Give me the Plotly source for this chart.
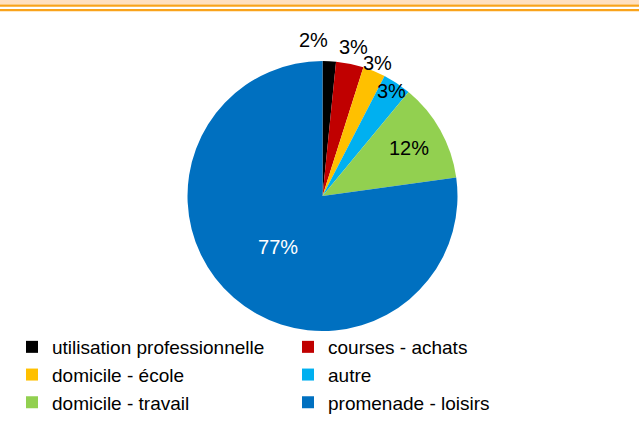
import math
import plotly.graph_objects as go

categories = ["utilisation professionnelle", "courses - achats", "domicile - école",
              "autre", "domicile - travail", "promenade - loisirs"]
shares = [1.6, 3.3, 2.7, 3.4, 11.8, 77.2]

# styles
colors = ["#000000", "#C00000", "#FFC000", "#00B0F0", "#92D050", "#0070C0"]
text_positions = ["none", "none", "none", "none", "inside", "inside"]
text_colors = ["#000000", "#000000", "#000000", "#000000", "#000000", "#FFFFFF"]
# small-slice labels drawn as annotations: radial factor and horizontal anchor
label_radial = [1.16, 1.13, 1.07, 0.93, None, None]
label_anchor = ["right", "center", "center", "center", None, None]

FONT = "Liberation Sans, Arial, sans-serif"
W, H = 639, 431
cx, cy, r = 322.5, 196, 135

fig = go.Figure(go.Pie(
    labels=categories,
    values=shares,
    sort=False,
    direction="clockwise",
    rotation=0,
    marker=dict(colors=colors, line=dict(width=0)),
    texttemplate="%{percent:.0%}",
    textposition=text_positions,
    textfont=dict(family=FONT, size=20, color=text_colors),
    insidetextorientation="horizontal",
    automargin=False,
    hoverinfo="label+percent",
    domain=dict(x=[(cx - r) / W, (cx + r) / W], y=[(H - cy - r) / H, (H - cy + r) / H]),
))

total = sum(shares)
annotations = []
cum = 0.0
for s, rf, anc in zip(shares, label_radial, label_anchor):
    mid = (cum + s / 2) / total * 2 * math.pi
    cum += s
    if rf is None:
        continue
    px = cx + r * rf * math.sin(mid)
    py = cy - r * rf * math.cos(mid)
    annotations.append(dict(
        x=px / W, y=1 - py / H, xref="paper", yref="paper",
        text=f"{round(s / total * 100)}%", showarrow=False,
        xanchor=anc, yanchor="middle",
        font=dict(family=FONT, size=20, color="#000000"),
    ))

fig.update_layout(
    width=W, height=H,
    margin=dict(l=0, r=0, t=0, b=0),
    paper_bgcolor="white",
    plot_bgcolor="white",
    font=dict(family=FONT, color="#000000"),
    showlegend=True,
    legend=dict(
        orientation="h",
        x=12 / W, xanchor="left",
        y=(H - 328) / H, yanchor="top",
        entrywidth=231,
        font=dict(size=19, color="#000000"),
        bgcolor="rgba(0,0,0,0)",
        traceorder="normal",
    ),
    annotations=annotations,
    shapes=[
        dict(type="rect", xref="paper", yref="paper", x0=0, x1=1,
             y0=1 - 4.5 / H, y1=1, fillcolor="#FFE0C0", line=dict(width=0), layer="below"),
        dict(type="rect", xref="paper", yref="paper", x0=0, x1=1,
             y0=1 - 6.8 / H, y1=1 - 4.5 / H, fillcolor="#F9A31B", line=dict(width=0)),
        dict(type="rect", xref="paper", yref="paper", x0=0, x1=1,
             y0=1 - 11.3 / H, y1=1 - 9 / H, fillcolor="#F9A31B", line=dict(width=0)),
    ],
)

fig.write_html("out.html", config={"displayModeBar": False},
               post_script="document.body.style.margin='0';")
